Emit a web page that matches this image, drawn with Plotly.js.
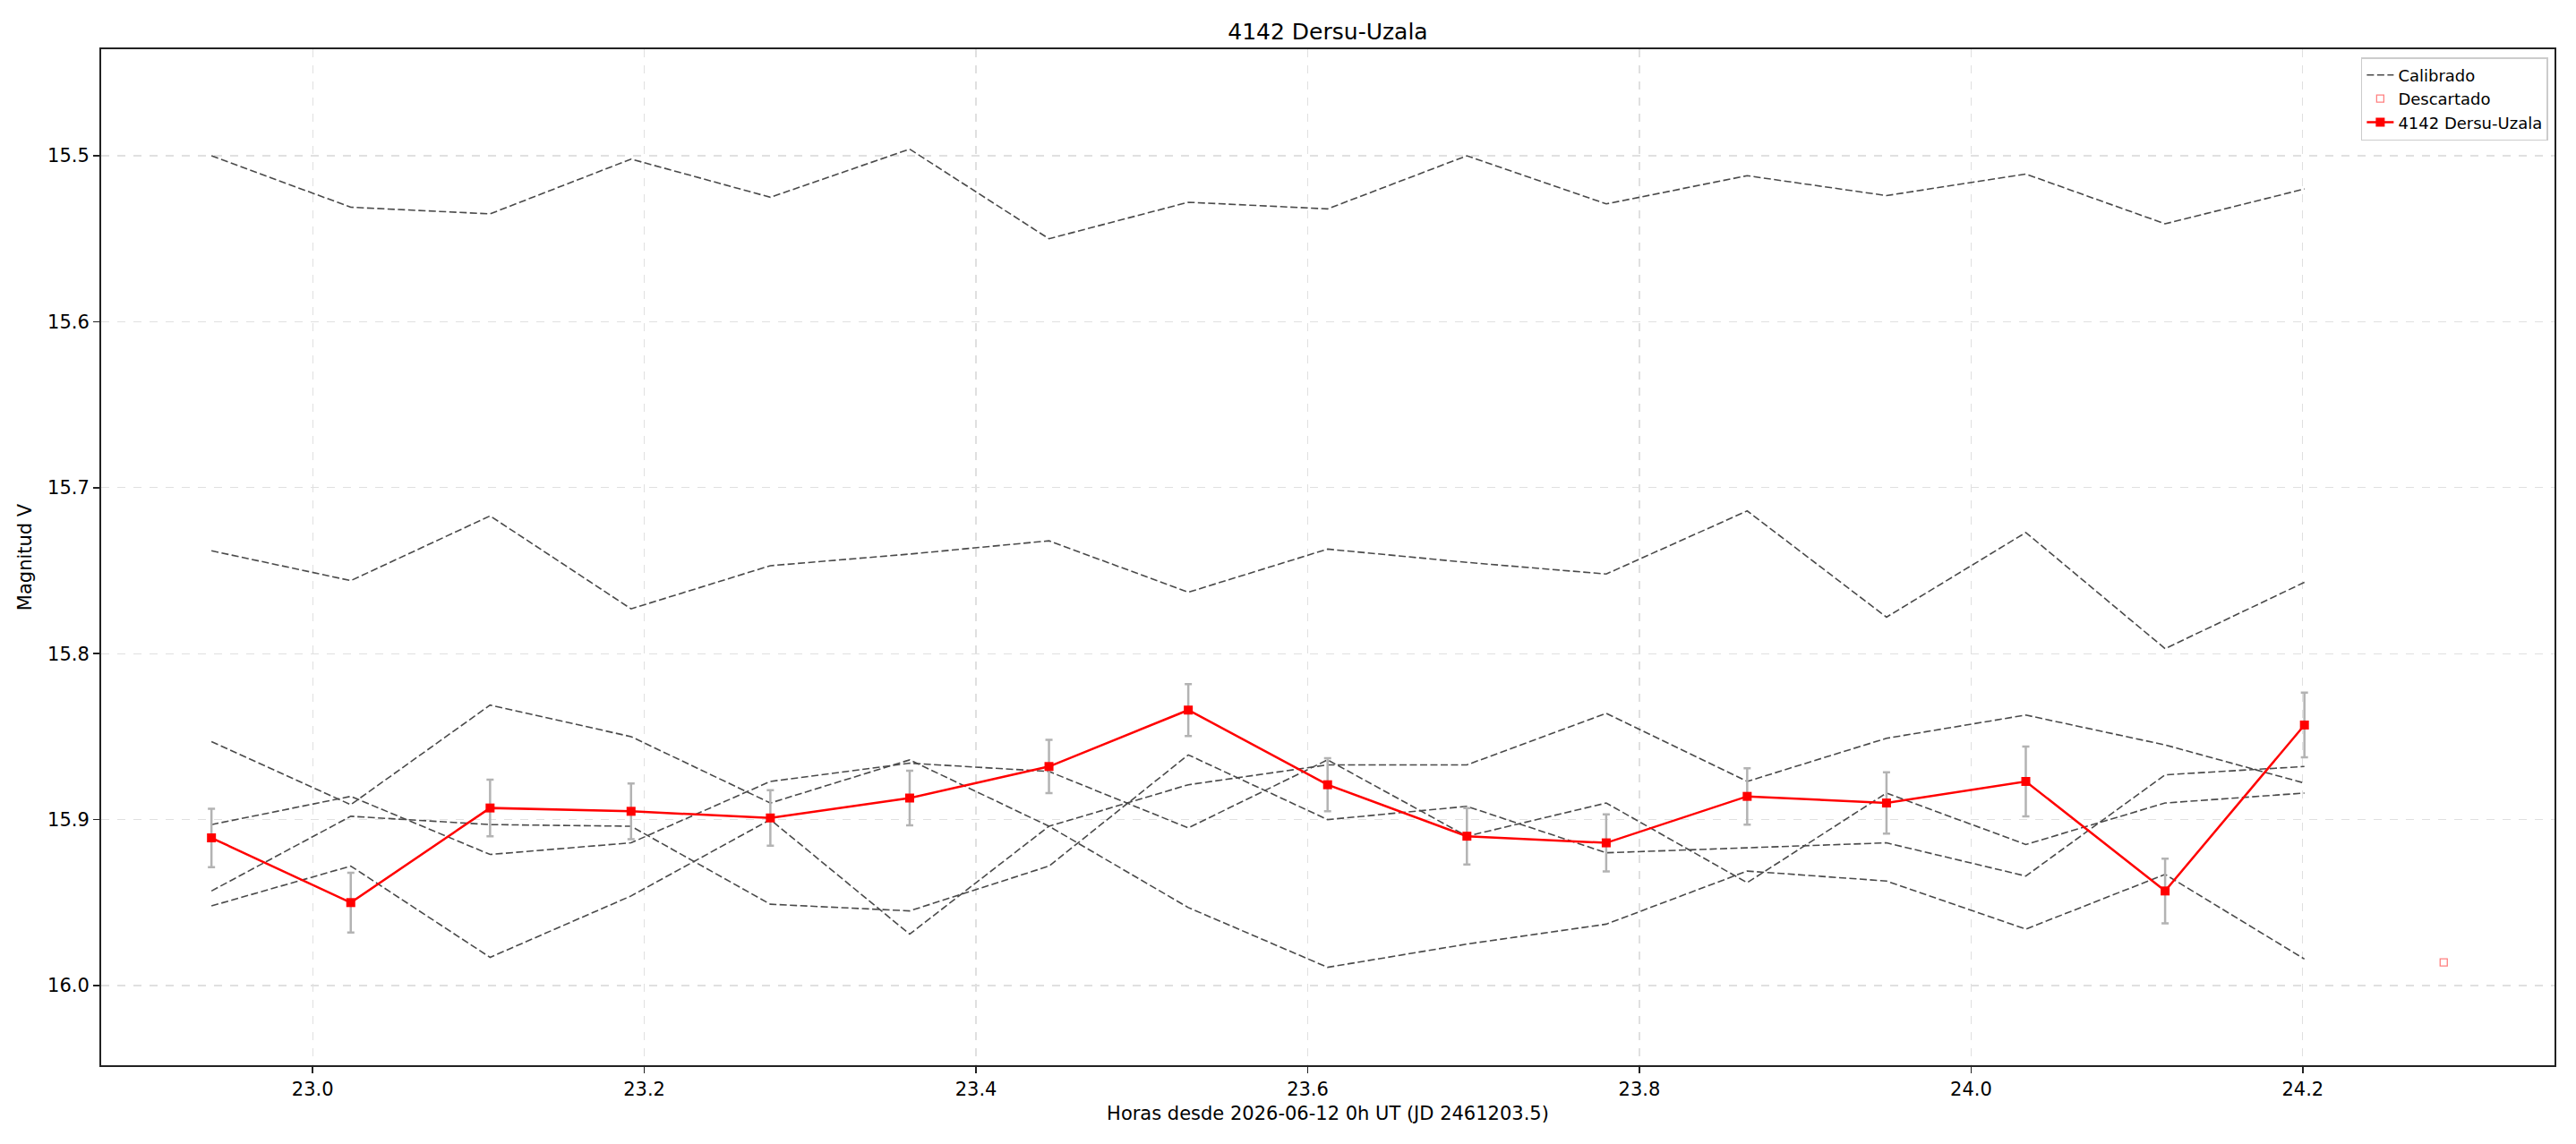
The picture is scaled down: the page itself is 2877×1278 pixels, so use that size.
<!DOCTYPE html>
<html>
<head>
<meta charset="utf-8">
<script src="https://cdn.plot.ly/plotly-3.0.1.min.js"></script>
<style>html,body{margin:0;padding:0;background:#fff;}#chart{width:2877px;height:1278px;}</style>
</head>
<body>
<div id="chart"></div>
<script>
// Hours since 2026-06-12 0h UT
const hours = [22.939, 23.023, 23.107, 23.192, 23.276, 23.360, 23.444, 23.528,
               23.612, 23.696, 23.780, 23.865, 23.949, 24.033, 24.117, 24.201];

// Target: 4142 Dersu-Uzala
const targetMag = [15.911, 15.950, 15.893, 15.895, 15.899, 15.887, 15.868, 15.834,
                   15.879, 15.910, 15.914, 15.886, 15.890, 15.877, 15.943, 15.843];
const targetErr = [0.0176, 0.018, 0.017, 0.0168, 0.0167, 0.0165, 0.016, 0.0156,
                   0.016, 0.017, 0.0172, 0.017, 0.0185, 0.021, 0.0195, 0.0195];

// Calibrated comparison stars
const comp1 = [15.500, 15.531, 15.535, 15.502, 15.525, 15.496, 15.550, 15.528,
               15.532, 15.500, 15.529, 15.512, 15.524, 15.511, 15.541, 15.520];
const comp2 = [15.738, 15.756, 15.717, 15.773, 15.747, 15.740, 15.732, 15.763,
               15.737, 15.745, 15.752, 15.714, 15.778, 15.727, 15.797, 15.757];
const comp3 = [15.853, 15.891, 15.831, 15.850, 15.890, 15.864, 15.904, 15.953,
               15.989, 15.975, 15.963, 15.931, 15.937, 15.966, 15.933, 15.984];
const comp4 = [15.903, 15.886, 15.921, 15.914, 15.877, 15.866, 15.871, 15.905,
               15.864, 15.910, 15.890, 15.938, 15.884, 15.915, 15.890, 15.884];
const comp5 = [15.943, 15.898, 15.903, 15.904, 15.951, 15.955, 15.928, 15.861,
               15.900, 15.892, 15.920, 15.917, 15.914, 15.934, 15.873, 15.868];
const comp6 = [15.952, 15.928, 15.983, 15.946, 15.900, 15.969, 15.904, 15.879,
               15.867, 15.867, 15.836, 15.877, 15.851, 15.837, 15.855, 15.878];

// Discarded point
const discardedHours = [24.285];
const discardedMag = [15.986];

// Axis ticks
const xTicks = [23.0, 23.2, 23.4, 23.6, 23.8, 24.0, 24.2];
const yTicks = [15.5, 15.6, 15.7, 15.8, 15.9, 16.0];

const comps = [comp1, comp2, comp3, comp4, comp5, comp6];
const traces = comps.map((arr, i) => ({
  x: hours, y: arr, type: 'scatter', mode: 'lines',
  line: {color: '#4a4a4a', width: 1.6, dash: '8px,3.5px'},
  name: 'Calibrado', legendgroup: 'cal', showlegend: i === 0, hoverinfo: 'skip'
}));

traces.push({
  x: discardedHours, y: discardedMag, type: 'scatter', mode: 'markers',
  marker: {symbol: 'square-open', size: 8, color: '#ff8080', line: {width: 1.3, color: '#ff8080'}},
  name: 'Descartado'
});

traces.push({
  x: hours, y: targetMag, type: 'scatter', mode: 'lines+markers',
  line: {color: '#ff0000', width: 2.5},
  marker: {symbol: 'square', size: 10, color: '#ff0000'},
  error_y: {type: 'data', array: targetErr, visible: true, color: '#b3b3b3', thickness: 2.5, width: 4},
  name: '4142 Dersu-Uzala'
});

const font = {family: 'DejaVu Sans, sans-serif', color: '#000000'};
const axisCommon = {
  ticks: 'outside', ticklen: 7, tickwidth: 1.6, tickcolor: '#222222',
  showline: true, linecolor: '#222222', linewidth: 2, mirror: true,
  showgrid: true, gridcolor: '#e0e0e0', griddash: 'dash', gridwidth: 1.3,
  zeroline: false, tickfont: {family: font.family, size: 21, color: '#000'},
  tickformat: '.1f', tickmode: 'array', automargin: false
};

const layout = {
  width: 2877, height: 1278,
  margin: {l: 113, r: 24, t: 55, b: 88},
  paper_bgcolor: '#ffffff', plot_bgcolor: '#ffffff',
  font: font,
  title: {text: '4142 Dersu-Uzala', font: {family: font.family, size: 25, color: '#000'},
          x: 0.5, xref: 'paper', y: 1 - 35 / 1278, yref: 'container', yanchor: 'middle'},
  xaxis: Object.assign({}, axisCommon, {
    range: [22.8725, 24.3518], tickvals: xTicks,
    title: {text: 'Horas desde 2026-06-12 0h UT (JD 2461203.5)', font: {family: font.family, size: 21, color: '#000'}, standoff: 8}
  }),
  yaxis: Object.assign({}, axisCommon, {
    range: [16.048, 15.4358], tickvals: yTicks,
    title: {text: 'Magnitud V', font: {family: font.family, size: 21, color: '#000'}, standoff: 12}
  }),
  legend: {
    x: 0.9974, y: 0.992, xanchor: 'right', yanchor: 'top',
    bgcolor: 'rgba(255,255,255,0.8)', bordercolor: '#cccccc', borderwidth: 1.5,
    font: {family: font.family, size: 18, color: '#000'}, traceorder: 'normal'
  },
  showlegend: true
};

Plotly.newPlot('chart', traces, layout, {staticPlot: true, displayModeBar: false});
</script>
</body>
</html>
